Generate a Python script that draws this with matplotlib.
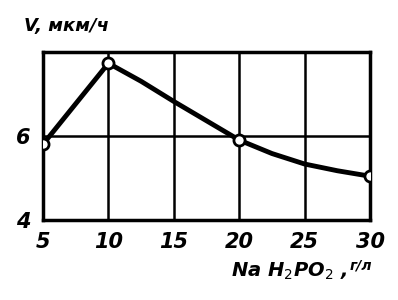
import matplotlib
matplotlib.use("Agg")
import matplotlib.pyplot as plt

# concentration of NaH2PO2, g/l, and deposition rate, um/h
conc = [5, 10, 12.5, 15, 17.5, 20, 22.5, 25, 27.5, 30]
rate = [5.8, 7.73, 7.3, 6.82, 6.36, 5.9, 5.58, 5.33, 5.17, 5.04]
# measured points (open circles)
conc_pts = [5, 10, 20, 30]
rate_pts = [5.8, 7.73, 5.9, 5.04]

xticks = [5, 10, 15, 20, 25, 30]
yticks = [4, 6]

plt.rcParams['font.family'] = ['DejaVu Sans']
fnt = dict(fontweight='bold', fontstyle='italic')

fig = plt.figure(figsize=(3.98, 3.0), dpi=100)
ax = fig.add_axes([0.108, 0.267, 0.822, 0.56])

ax.plot(conc, rate, '-', color='black', lw=3.5, zorder=3)
ax.plot(conc_pts, rate_pts, 'o', ms=8, mfc='white', mec='black', mew=2, zorder=4)

ax.set_xlim(5, 30)
ax.set_ylim(4, 8)
ax.set_xticks(xticks)
ax.set_yticks(yticks)
ax.set_xticklabels([str(t) for t in xticks], fontsize=15, **fnt)
ax.set_yticklabels([str(t) for t in yticks], fontsize=15, **fnt)
ax.tick_params(length=0, pad=9)

for x in [10, 15, 20, 25]:
    ax.axvline(x, color='black', lw=1.8, zorder=1)
ax.axhline(6, color='black', lw=1.8, zorder=1)
for s in ax.spines.values():
    s.set_linewidth(2.5)

fig.text(0.06, 0.915, 'V, мкм/ч', fontsize=13, ha='left', va='center', **fnt)
fig.text(0.58, 0.095, 'Na H$_2$PO$_2$ ,', fontsize=14, ha='left', va='center', **fnt)
fig.text(0.935, 0.115, 'г/л', fontsize=10, ha='right', va='center', **fnt)

fig.savefig('out.png', dpi=100)
